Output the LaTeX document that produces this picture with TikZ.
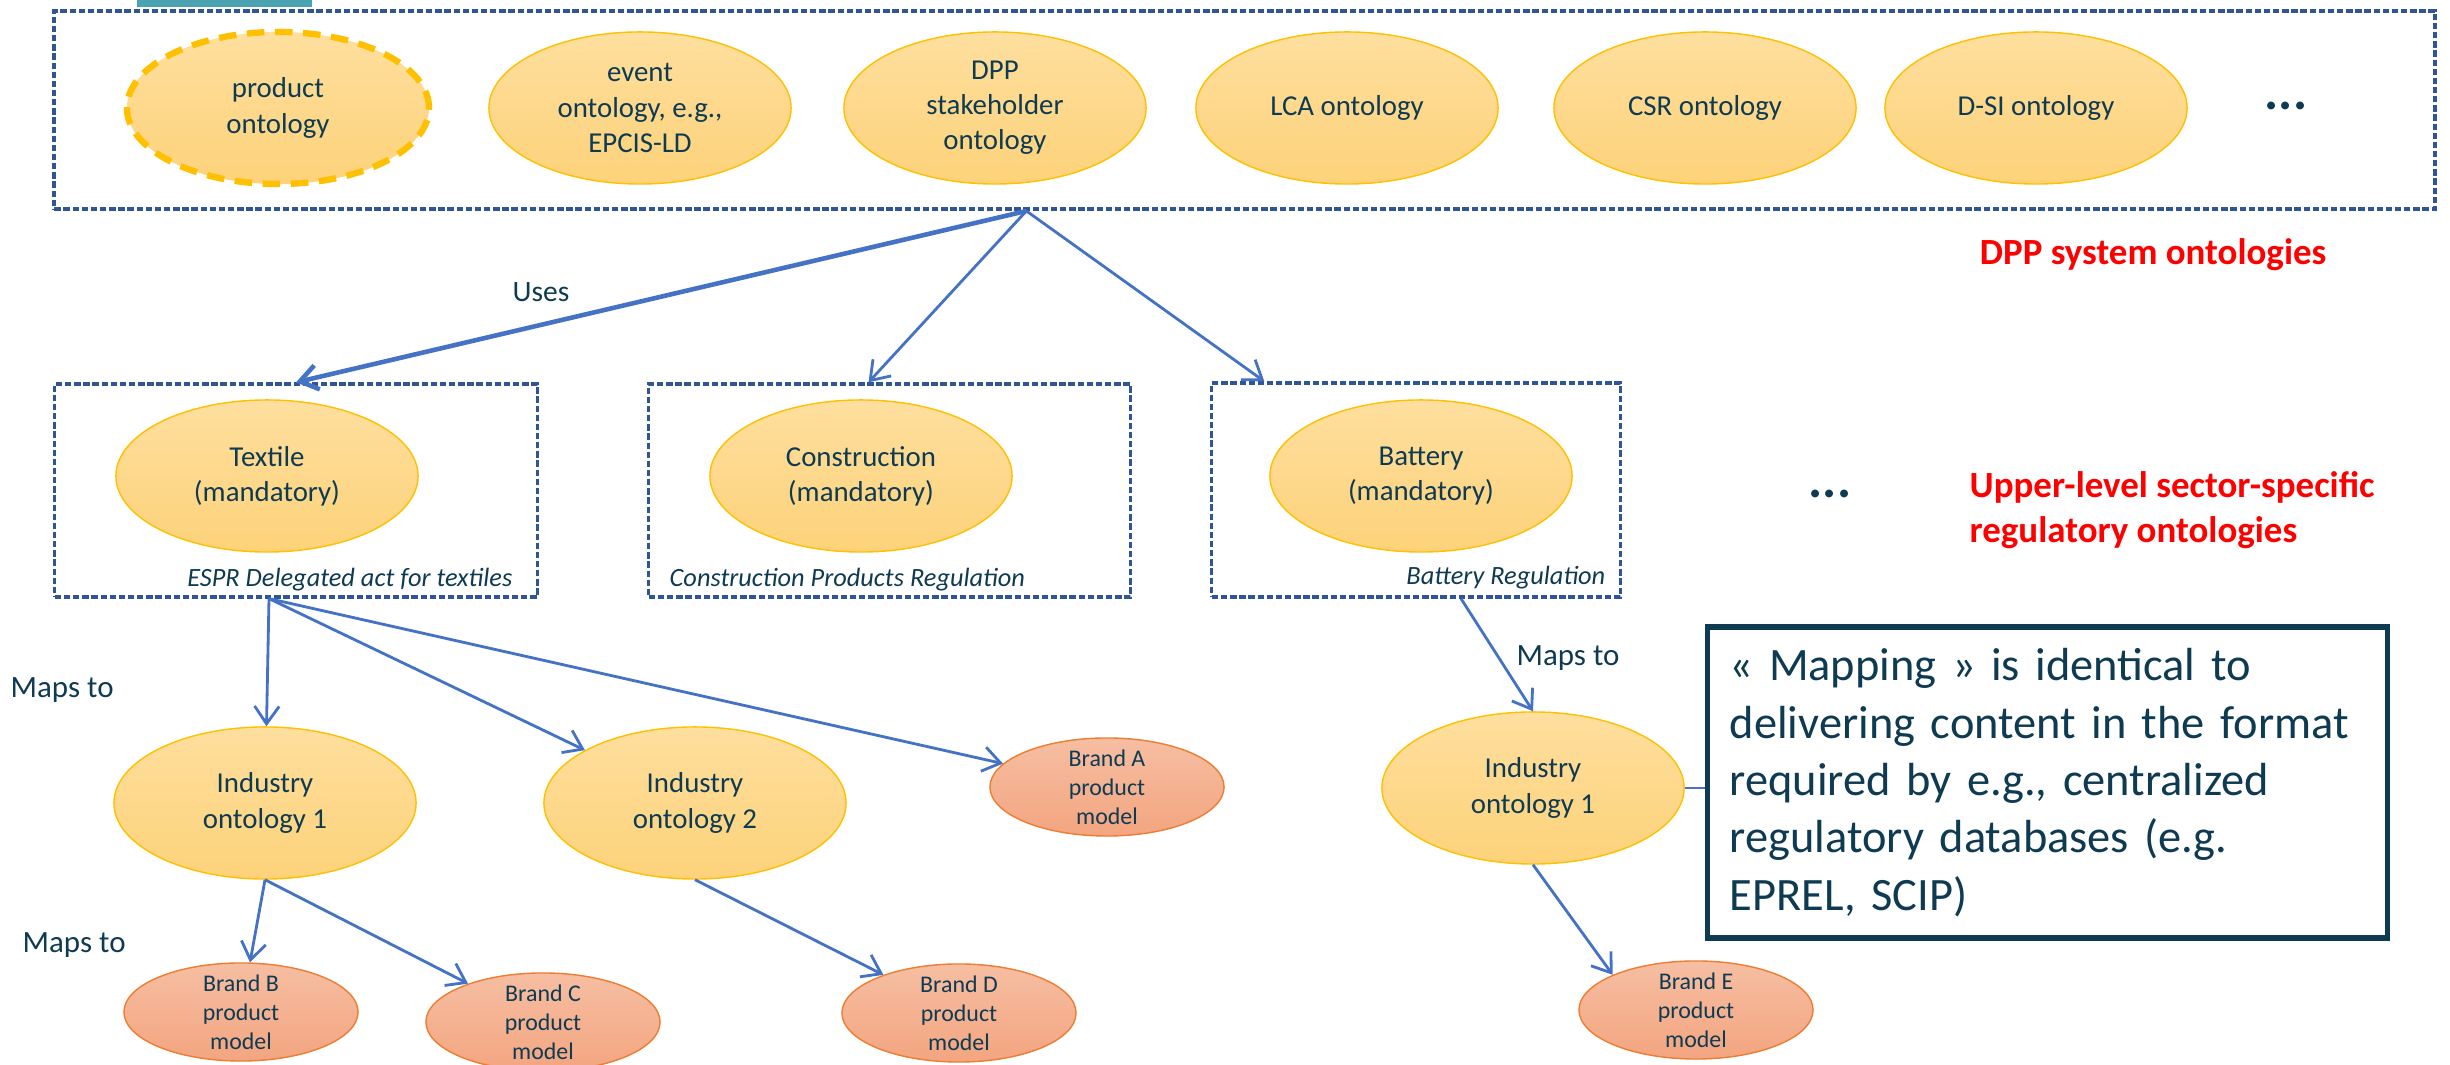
\documentclass[tikz,border=0pt]{standalone}
\usepackage{fontspec}
\setmainfont{Carlito}
\usetikzlibrary{shapes.geometric,arrows.meta,calc}
\definecolor{ink}{HTML}{0E3A52}
\definecolor{goldline}{HTML}{FFC000}
\definecolor{goldtop}{HTML}{FEDF9E}
\definecolor{goldbot}{HTML}{FDD27A}
\definecolor{brandline}{HTML}{ED7D31}
\definecolor{brandtop}{HTML}{F6BEA2}
\definecolor{brandbot}{HTML}{F3A580}
\definecolor{boxblue}{HTML}{2F5597}
\definecolor{arrowblue}{HTML}{4472C4}
\definecolor{tealbar}{HTML}{4BA3B2}
\begin{document}
\begin{tikzpicture}[x=0.01cm,y=-0.01cm,
	onto/.style={ellipse,draw=goldline,top color=goldtop,bottom color=goldbot,minimum width=3.02cm,minimum height=1.52cm,inner xsep=0pt,inner ysep=-2pt,align=center,text=ink,font=\fontsize{8.2}{10}\selectfont},
	brand/.style={ellipse,draw=brandline,top color=brandtop,bottom color=brandbot,minimum width=2.34cm,minimum height=0.98cm,inner xsep=0pt,inner ysep=-5pt,align=center,text=ink,font=\fontsize{6.8}{8.2}\selectfont},
	regbox/.style={draw=boxblue,line width=0.9pt,dash pattern=on 1.8pt off 0.8pt,inner sep=0pt},
	mapsto/.style={draw=arrowblue,line width=0.8pt,-{Straight Barb[length=5pt,width=7pt]}},
	lbl/.style={text=ink,font=\fontsize{8.8}{10.5}\selectfont,inner sep=0pt},
	actlabel/.style={text=ink,font=\fontsize{7.5}{9}\selectfont\itshape,inner sep=0pt},
	heading/.style={text=red,font=\fontsize{10.5}{12.8}\selectfont\bfseries,align=left,inner sep=0pt},
	more/.style={text=ink,font=\fontsize{15}{15}\selectfont\bfseries,inner sep=0pt}]
	\useasboundingbox (0,0) rectangle (2450,1065);
	\fill[tealbar] (137,0) rectangle (312,7);
	% system ontologies
	\node[regbox,line width=1.1pt,minimum width=23.79cm,minimum height=1.98cm] (sysbox) at (1244.5,110) {};
	\node[onto,draw=goldline,line width=1.8pt,dash pattern=on 5pt off 3pt] (prod) at (278,108) {product\\ontology};
	\node[onto] (event) at (640,108) {event\\ontology, e.g.,\\EPCIS-LD};
	\node[onto] (stake) at (995,108) {DPP\\stakeholder\\ontology};
	\node[onto] (lca) at (1347,108) {LCA ontology};
	\node[onto] (csr) at (1705,108) {CSR ontology};
	\node[onto] (dsi) at (2036,108) {D-SI ontology};
	\node[more] (moresys) at (2286,106) {...};
	\node[heading,anchor=east] (systitle) at (2327,255) {DPP system ontologies};
	% sector regulations
	\node[regbox,minimum width=4.82cm,minimum height=2.13cm] (tbox) at (296,490.5) {};
	\node[regbox,minimum width=4.81cm,minimum height=2.13cm] (cbox) at (889.5,490.5) {};
	\node[regbox,minimum width=4.08cm,minimum height=2.14cm] (bbox) at (1416,490) {};
	\node[onto] (textile) at (267,476) {Textile\\(mandatory)};
	\node[onto] (constr) at (861,476) {Construction\\(mandatory)};
	\node[onto] (battery) at (1421,476) {Battery\\(mandatory)};
	\node[actlabel,anchor=east] (espr) at (513,580) {ESPR Delegated act for textiles};
	\node[actlabel,anchor=west] (cpr) at (669,580) {Construction Products Regulation};
	\node[actlabel,anchor=east] (batreg) at (1606,578) {Battery Regulation};
	\node[more] (moresec) at (1830,494) {...};
	\node[heading,anchor=west] (sectitle) at (1969,510) {Upper-level sector-specific\\regulatory ontologies};
	\coordinate (hub) at ($(sysbox.south west)+(974,0)$);
	\draw[mapsto,line width=1.3pt] (hub) -- (tbox.north);
	\draw[mapsto] (hub) -- ($(cbox.north)+(-21,0)$);
	\draw[mapsto] (hub) -- ($(bbox.north west)+(54,0)$);
	\node[lbl,font=\fontsize{8.4}{10}\selectfont] (uses) at (541,292) {Uses};
	% industry ontologies and product models
	\node[onto] (io1) at (265,803) {Industry\\ontology 1};
	\node[onto] (io2) at (695,803) {Industry\\ontology 2};
	\node[onto] (io1r) at (1533,788) {Industry\\ontology 1};
	\node[brand] (brandA) at (1107,787) {Brand A\\product\\model};
	\node[brand] (brandB) at (241,1012) {Brand B\\product\\model};
	\node[brand] (brandC) at (543,1022) {Brand C\\product\\model};
	\node[brand] (brandD) at (959,1013) {Brand D\\product\\model};
	\node[brand] (brandE) at (1696,1010) {Brand E\\product\\model};
	\node[lbl,anchor=west] (maps1) at (10,690) {Maps to};
	\node[lbl,anchor=west] (maps2) at (22,945) {Maps to};
	\node[lbl] (maps3) at (1568,658) {Maps to};
	\coordinate (tsrc) at ($(tbox.south)+(-27,0)$);
	\draw[mapsto] (tsrc) -- (io1);
	\draw[mapsto] (tsrc) -- (io2);
	\draw[mapsto] (tsrc) -- (brandA);
	\draw[mapsto] (io1.south) -- (brandB);
	\draw[mapsto] (io1.south) -- (brandC);
	\draw[mapsto] (io2.south) -- (brandD);
	\coordinate (bsrc) at ($(bbox.south)+(45,0)$);
	\draw[mapsto] (bsrc) -- (io1r.north);
	\draw[mapsto] (io1r.south) -- (brandE.north west);
	% note
	\node[draw=ink,line width=1.5pt,fill=white,text=ink,font=\fontsize{13.2}{16.3}\selectfont,align=left,text width=6.35cm,inner xsep=0.22cm,minimum height=3.11cm] (callout) at (2047.5,782.5) {« Mapping » is identical to\\delivering content in the format\\required by e.g., centralized\\regulatory databases (e.g.\\EPREL, SCIP)};
	\draw[arrowblue,line width=0.8pt] (io1r.east) -- (io1r.east -| callout.west);
\end{tikzpicture}
\end{document}
